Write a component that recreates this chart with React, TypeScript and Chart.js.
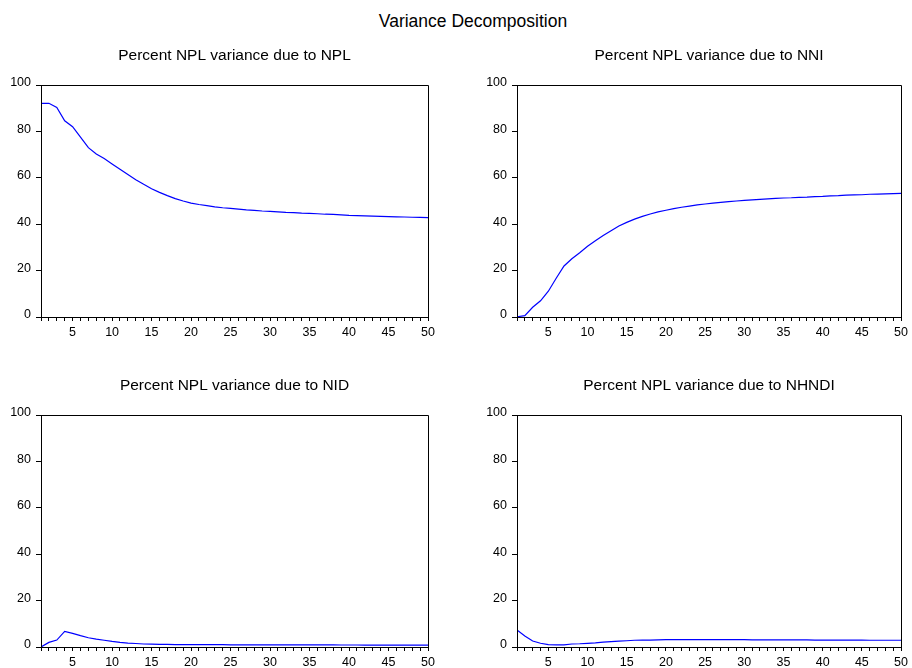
import React, { useEffect, useRef } from "react";
import { Chart, registerables } from "chart.js";

Chart.register(...registerables);

const FONT = "'Liberation Sans', Arial, Helvetica, sans-serif";

const mainTitle = "Variance Decomposition";

const periods: number[] = [
  1, 2, 3, 4, 5, 6, 7, 8, 9, 10, 11, 12, 13, 14, 15, 16, 17, 18, 19, 20, 21, 22, 23, 24, 25,
  26, 27, 28, 29, 30, 31, 32, 33, 34, 35, 36, 37, 38, 39, 40, 41, 42, 43, 44, 45, 46, 47, 48, 49, 50,
];

const titleNPL = "Percent NPL variance due to NPL";
const titleNNI = "Percent NPL variance due to NNI";
const titleNID = "Percent NPL variance due to NID";
const titleNHNDI = "Percent NPL variance due to NHNDI";

const dueToNPL: number[] = [
  92.1, 92.1, 90.3, 84.6, 82.0, 77.5, 73.0, 70.3, 68.3, 66.0,
  63.7, 61.4, 59.2, 57.2, 55.3, 53.7, 52.3, 51.0, 50.0, 49.1,
  48.5, 48.0, 47.5, 47.1, 46.8, 46.5, 46.2, 46.0, 45.7, 45.5,
  45.3, 45.1, 45.0, 44.8, 44.7, 44.5, 44.3, 44.2, 44.0, 43.8,
  43.7, 43.6, 43.5, 43.4, 43.3, 43.2, 43.1, 43.0, 42.9, 42.8,
];

const dueToNNI: number[] = [
  0.1, 0.6, 4.2, 7.0, 11.1, 16.7, 22.0, 25.1, 27.7, 30.5,
  32.9, 35.1, 37.2, 39.2, 40.8, 42.2, 43.4, 44.4, 45.3, 46.0,
  46.7, 47.3, 47.8, 48.3, 48.7, 49.1, 49.4, 49.7, 50.0, 50.3,
  50.5, 50.7, 50.9, 51.1, 51.3, 51.4, 51.6, 51.7, 51.9, 52.0,
  52.2, 52.3, 52.5, 52.6, 52.7, 52.9, 53.0, 53.1, 53.2, 53.3,
];

const dueToNID: number[] = [
  0.0, 2.0, 3.0, 6.7, 5.9, 4.9, 4.0, 3.4, 2.9, 2.4,
  2.0, 1.7, 1.5, 1.3, 1.2, 1.1, 1.1, 1.0, 1.0, 1.0,
  1.0, 1.0, 1.0, 1.0, 0.95, 0.95, 0.95, 0.95, 0.9, 0.9,
  0.9, 0.9, 0.9, 0.9, 0.9, 0.9, 0.88, 0.88, 0.87, 0.87,
  0.86, 0.85, 0.85, 0.84, 0.84, 0.83, 0.82, 0.82, 0.81, 0.8,
];

const dueToNHNDI: number[] = [
  7.3, 4.7, 2.6, 1.6, 1.0, 0.9, 0.95, 1.3, 1.4, 1.6,
  1.8, 2.1, 2.3, 2.5, 2.7, 2.9, 3.0, 3.0, 3.1, 3.2,
  3.2, 3.2, 3.2, 3.2, 3.2, 3.2, 3.2, 3.2, 3.2, 3.2,
  3.1, 3.1, 3.1, 3.1, 3.1, 3.1, 3.05, 3.05, 3.0, 3.0,
  3.0, 3.0, 2.95, 2.95, 2.95, 2.9, 2.9, 2.9, 2.9, 2.9,
];

const yMin = 0;
const yMax = 100;
const yStep = 20;
const xLabelEvery = 5;

const framePlugin = {
  id: "frame",
  afterDraw(chart: any) {
    const { ctx, chartArea } = chart;
    const a = (p: number) => Math.round(p + 0.5) - 0.5;
    const l = a(chartArea.left);
    const r = a(chartArea.right);
    const t = a(chartArea.top);
    const b = a(chartArea.bottom);
    ctx.save();
    ctx.strokeStyle = "#000";
    ctx.lineWidth = 1;
    ctx.beginPath();
    ctx.moveTo(l, b);
    ctx.lineTo(l, t);
    ctx.lineTo(r, t);
    ctx.lineTo(r, b);
    ctx.stroke();
    ctx.restore();
  },
};

type PanelProps = {
  left: number;
  top: number;
  width: number;
  height: number;
  yAxisWidth: number;
  padRight: number;
  xAxisHeight: number;
  title: string;
  values: number[];
};

function Panel(props: PanelProps) {
  const ref = useRef<HTMLCanvasElement | null>(null);
  useEffect(() => {
    if (!ref.current) return;
    const chart = new Chart(ref.current, {
      type: "line",
      data: {
        datasets: [
          {
            data: periods.map((p, i) => ({ x: p, y: props.values[i] })),
            borderColor: "#0000ff",
            borderWidth: 1.2,
            pointRadius: 0,
            fill: false,
            tension: 0,
          },
        ],
      },
      options: {
        animation: false,
        responsive: false,
        devicePixelRatio: 1,
        layout: { padding: { left: 0, right: props.padRight, top: 0, bottom: 0 } },
        plugins: {
          legend: { display: false },
          tooltip: { enabled: false },
          title: {
            display: true,
            text: props.title,
            fullSize: false,
            color: "#000",
            font: { family: FONT, size: 15.5, weight: "normal", lineHeight: 1 },
            padding: { top: 18, bottom: 21.5 },
          },
        },
        scales: {
          x: {
            type: "linear",
            min: periods[0],
            max: periods[periods.length - 1],
            afterFit: (s: any) => {
              s.height = props.xAxisHeight;
            },
            grid: { drawOnChartArea: false, tickLength: 4, color: "#000", tickColor: "#000" },
            border: { color: "#000", width: 1 },
            ticks: {
              stepSize: 1,
              autoSkip: false,
              maxRotation: 0,
              minRotation: 0,
              padding: 4,
              color: "#000",
              font: { family: FONT, size: 12.5 },
              callback: (v: any) => (Number(v) % xLabelEvery === 0 ? String(v) : ""),
            },
          },
          y: {
            min: yMin,
            max: yMax,
            afterFit: (s: any) => {
              s.width = props.yAxisWidth;
            },
            grid: { drawOnChartArea: false, tickLength: 5, color: "#000", tickColor: "#000" },
            border: { color: "#000", width: 1 },
            ticks: {
              stepSize: yStep,
              padding: 5,
              labelOffset: -2,
              color: "#000",
              font: { family: FONT, size: 12.5 },
            },
          },
        },
      } as any,
      plugins: [framePlugin],
    });
    return () => chart.destroy();
  }, []);
  return (
    <canvas
      ref={ref}
      width={props.width}
      height={props.height}
      style={{ position: "absolute", left: props.left, top: props.top, width: props.width, height: props.height }}
    />
  );
}

export default function App() {
  return (
    <div
      style={{
        position: "fixed",
        left: 0,
        top: 0,
        width: 912,
        height: 668,
        background: "#fff",
        overflow: "hidden",
      }}
    >
      <div
        style={{
          position: "absolute",
          left: 0,
          top: 11,
          width: 946,
          height: 21,
          lineHeight: "21px",
          textAlign: "center",
          fontFamily: FONT,
          fontSize: 17.5,
          color: "#000",
        }}
      >
        {mainTitle}
      </div>
      <Panel left={0} top={30} width={456} height={320} yAxisWidth={41} padRight={28} xAxisHeight={33} title={titleNPL} values={dueToNPL} />
      <Panel left={476} top={30} width={436} height={320} yAxisWidth={41} padRight={8} xAxisHeight={33} title={titleNNI} values={dueToNNI} />
      <Panel left={0} top={360} width={456} height={308} yAxisWidth={41} padRight={28} xAxisHeight={21} title={titleNID} values={dueToNID} />
      <Panel left={476} top={360} width={436} height={308} yAxisWidth={41} padRight={8} xAxisHeight={21} title={titleNHNDI} values={dueToNHNDI} />
    </div>
  );
}
